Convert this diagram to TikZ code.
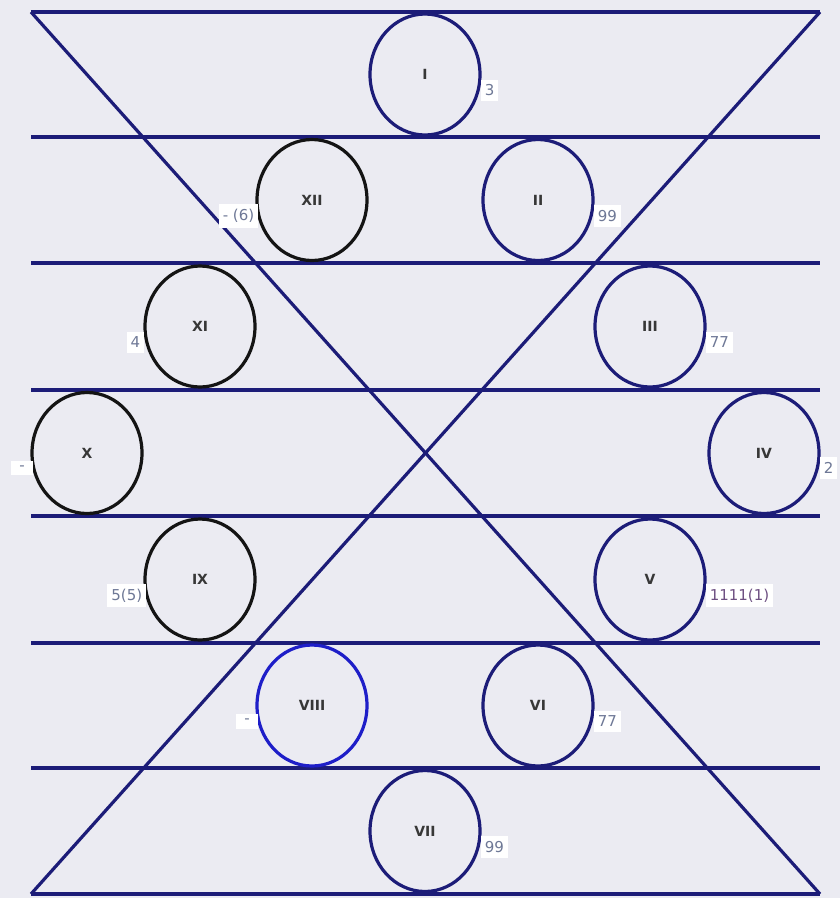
\documentclass[tikz,border=0pt]{standalone}
\usepackage{fontspec}
\setmainfont{DejaVu Sans}
\usetikzlibrary{shapes.geometric}
\definecolor{bg}{RGB}{235,235,242}
\definecolor{navy}{RGB}{28,28,120}
\definecolor{blk}{RGB}{20,20,20}
\definecolor{vblue}{RGB}{30,30,200}
\definecolor{lbl}{RGB}{110,120,150}
\definecolor{lblp}{RGB}{110,80,130}
\definecolor{rom}{RGB}{55,55,55}
\tikzset{
  band/.style={draw=navy, line width=3.2pt},
  ring/.style={ellipse, draw=#1, line width=3.2pt, minimum width=110pt, minimum height=121pt, inner sep=0pt,
     font=\fontsize{14}{16}\selectfont\bfseries, text=rom},
  tag/.style={fill=white, inner xsep=4pt, inner ysep=5pt, minimum width=22pt, text=lbl, font=\fontsize{15}{17}\selectfont},
}
\begin{document}
\begin{tikzpicture}[x=1pt,y=-1pt]
\fill[bg] (0,0) rectangle (840,898);
\useasboundingbox (0,0) rectangle (840,898);
% corner coordinates
\coordinate (TL) at (31,12);
\coordinate (TR) at (820,12);
\coordinate (BL) at (31,894);
\coordinate (BR) at (820,894);
% horizontal lines
\foreach \yy in {12,137,263,390,516,643,768,894}{
  \draw[band] (31,\yy) -- (820,\yy);
}
% diagonals
\draw[band] (TL) -- (BR);
\draw[band] (TR) -- (BL);
% circles
\node[ring=navy] (c1) at (425,74.5) {I};
\node[ring=blk]  (c12) at (312,200) {XII};
\node[ring=navy] (c2) at (538,200) {II};
\node[ring=blk]  (c11) at (200,326.5) {XI};
\node[ring=navy] (c3) at (650,326.5) {III};
\node[ring=blk]  (c10) at (87,453) {X};
\node[ring=navy] (c4) at (764,453) {IV};
\node[ring=blk]  (c9) at (200,579.5) {IX};
\node[ring=navy] (c5) at (650,579.5) {V};
\node[ring=vblue] (c8) at (312,705.5) {VIII};
\node[ring=navy] (c6) at (538,705.5) {VI};
\node[ring=navy] (c7) at (425,831) {VII};
% labels
\node[tag, anchor=west, minimum width=0pt] (t1) at ([xshift=-1pt,yshift=-16pt]c1.east) {3};
\node[tag, anchor=west] (t2) at ([xshift=-1pt,yshift=-16pt]c2.east) {99};
\node[tag, anchor=west] (t3) at ([xshift=-1pt,yshift=-16pt]c3.east) {77};
\node[tag, anchor=west, minimum width=0pt] (t4) at ([xshift=-1pt,yshift=-15pt]c4.east) {2};
\node[tag, anchor=west, text=lblp] (t5) at ([xshift=-1pt,yshift=-16pt]c5.east) {1111(1)};
\node[tag, anchor=west] (t6) at ([xshift=-1pt,yshift=-16pt]c6.east) {77};
\node[tag, anchor=west] (t7) at ([xshift=-1pt,yshift=-16pt]c7.east) {99};
\node[tag, anchor=east] (t12) at ([xshift=3pt,yshift=-16pt]c12.west) {- (6)};
\node[tag, anchor=east, minimum width=0pt] (t11) at ([xshift=1pt,yshift=-16pt]c11.west) {4};
\node[tag, anchor=east] (t10) at ([xshift=3pt,yshift=-15pt]c10.west) {-};
\node[tag, anchor=east] (t9) at ([xshift=3pt,yshift=-16pt]c9.west) {5(5)};
\node[tag, anchor=east] (t8) at ([xshift=3pt,yshift=-16pt]c8.west) {-};
\end{tikzpicture}
\end{document}
